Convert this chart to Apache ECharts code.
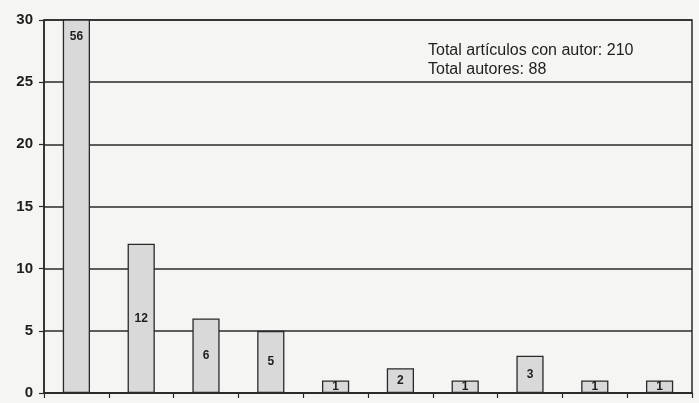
<!DOCTYPE html>
<html>
<head>
<meta charset="utf-8">
<script src="https://cdn.jsdelivr.net/npm/echarts@6/dist/echarts.min.js"></script>
<style>
  html, body { margin: 0; padding: 0; background: #f5f5f3; }
  #chart { width: 699px; height: 403px; }
</style>
</head>
<body>
<div id="chart"></div>
<script>
// ---- data ----
const categories = ['1', '2', '3', '4', '5', '6', '7', '8', '9', '10'];
const authorCounts = [56, 12, 6, 5, 1, 2, 1, 3, 1, 1];
const yTickValues = [0, 5, 10, 15, 20, 25, 30];
const noteLines = ['Total artículos con autor: 210', 'Total autores: 88'];

const chart = echarts.init(document.getElementById('chart'));

const yMin = yTickValues[0];
const yMax = yTickValues[yTickValues.length - 1];

const seriesData = authorCounts.map((v) => ({
  value: v,
  label: v > yMax
    ? { position: 'insideTop', distance: 11 }
    : { position: 'inside' }
}));

chart.setOption({
  backgroundColor: '#f5f5f3',
  animation: false,
  grid: {
    left: 44, right: 7, top: 20, bottom: 10,
    show: true, borderColor: '#2a2a2a', borderWidth: 1.5,
    backgroundColor: 'transparent'
  },
  title: {
    text: noteLines.join('\n'),
    left: 423, top: 36,
    textStyle: {
      fontFamily: 'Liberation Sans, Arial, sans-serif',
      fontSize: 16, fontWeight: 500, color: '#1e1e1e', lineHeight: 19
    }
  },
  xAxis: {
    type: 'category',
    data: categories,
    boundaryGap: true,
    axisLine: { lineStyle: { color: '#2a2a2a', width: 1.5 } },
    axisTick: { show: true, length: 5, inside: false, lineStyle: { color: '#2a2a2a', width: 1.2 } },
    axisLabel: { show: false }
  },
  yAxis: {
    type: 'value',
    min: yMin, max: yMax, interval: 5,
    axisLine: { show: true, lineStyle: { color: '#2a2a2a', width: 1.5 } },
    axisTick: { show: true, length: 5, lineStyle: { color: '#2a2a2a', width: 1.2 } },
    axisLabel: {
      margin: 11,
      fontFamily: 'Liberation Sans, Arial, sans-serif',
      fontSize: 15, fontWeight: 'bold', color: '#1e1e1e'
    },
    splitLine: { show: true, lineStyle: { color: '#2a2a2a', width: 1.5 } }
  },
  series: [{
    type: 'bar',
    data: seriesData,
    barWidth: '42%',
    clip: true,
    itemStyle: { color: '#d9d9d9', borderColor: '#2a2a2a', borderWidth: 1.3 },
    label: {
      show: true,
      fontFamily: 'Liberation Sans, Arial, sans-serif',
      fontSize: 12, fontWeight: 'bold', color: '#1e1e1e'
    }
  }]
});
</script>
</body>
</html>
